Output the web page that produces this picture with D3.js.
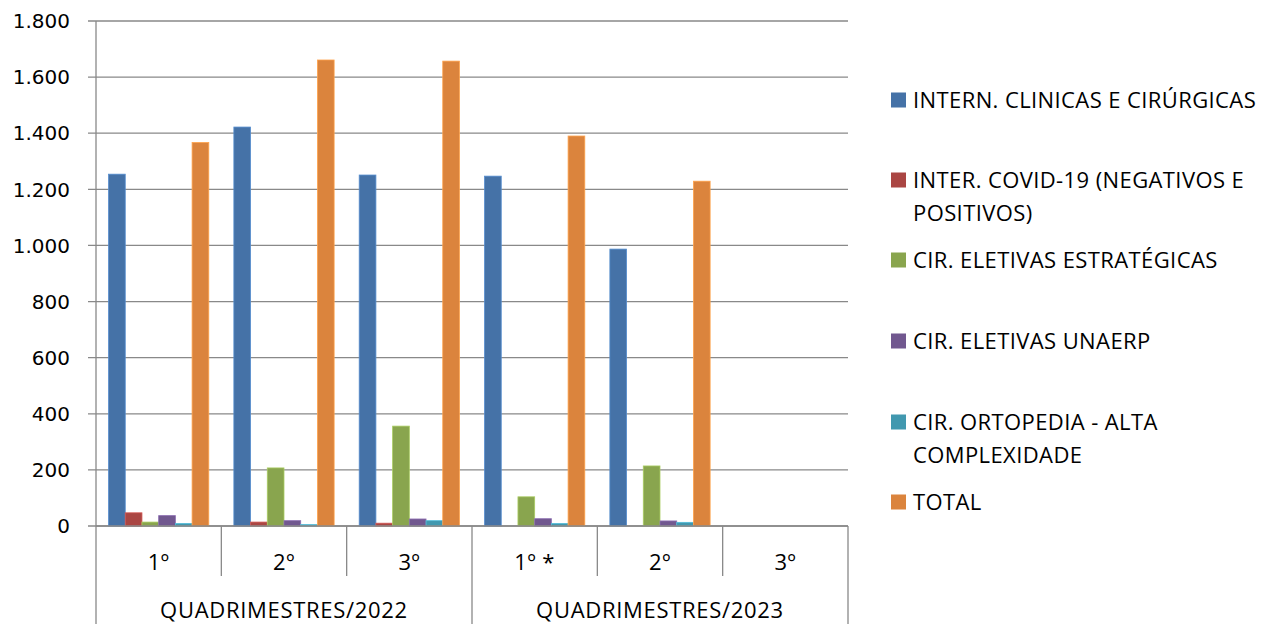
<!DOCTYPE html>
<html><head><meta charset="utf-8">
<script src="https://cdn.jsdelivr.net/npm/d3@7"></script>
<style>body{margin:0;background:#fff}svg{display:block}text{font-family:"Open Sans","Noto Sans",sans-serif;fill:#000}</style>
</head><body><svg id="c" width="1266" height="624"></svg>
<script>
const categories = ["1º","2º","3º","1º *","2º","3º"];
const groups = ["QUADRIMESTRES/2022","QUADRIMESTRES/2023"];
const seriesNames = ["INTERN. CLINICAS E CIRÚRGICAS","INTER. COVID-19 (NEGATIVOS E POSITIVOS)","CIR. ELETIVAS ESTRATÉGICAS","CIR. ELETIVAS UNAERP","CIR. ORTOPEDIA - ALTA COMPLEXIDADE","TOTAL"];
const legendLines = [["INTERN. CLINICAS E CIRÚRGICAS"],["INTER. COVID-19 (NEGATIVOS E","POSITIVOS)"],["CIR. ELETIVAS ESTRATÉGICAS"],["CIR. ELETIVAS UNAERP"],["CIR. ORTOPEDIA - ALTA","COMPLEXIDADE"],["TOTAL"]];
const colors = ["#4572A7","#AA4643","#89A54E","#71588F","#4198AF","#DB843D"];
const internClin = [1254, 1422, 1251, 1247, 987, null];
const covid      = [47, 14, 10, 0, 0, null];
const eletEstr   = [14, 207, 356, 104, 214, null];
const eletUnaerp = [37, 19, 25, 26, 18, null];
const ortopedia  = [9, 5, 19, 9, 13, null];
const total      = [1367, 1661, 1657, 1390, 1229, null];
const seriesValues = [internClin, covid, eletEstr, eletUnaerp, ortopedia, total];
const yTicks = [0,200,400,600,800,1000,1200,1400,1600,1800];

const svg = d3.select("#c");
const L = 96, R = 848, T = 21, B = 526;
const x = d3.scaleBand().domain(d3.range(categories.length)).range([L,R]).paddingInner(0).paddingOuter(0);
const xi = d3.scaleBand().domain(d3.range(seriesNames.length)).range([0,x.bandwidth()]).paddingOuter(0.75).paddingInner(0);
const y = d3.scaleLinear().domain([0,1800]).range([B,T]);
const fmt = v => d3.format(",")(v).replace(/,/g,".");
const grid = "#898989";

// gridlines
svg.append("g").selectAll("line").data(yTicks).join("line")
  .attr("x1",L-8).attr("x2",R).attr("y1",d=>y(d)).attr("y2",d=>y(d))
  .attr("stroke",grid).attr("stroke-width",1.3);
// y labels
svg.append("g").selectAll("text").data(yTicks).join("text")
  .attr("x",70).attr("y",d=>y(d)).attr("dy","0.36em").attr("text-anchor","end")
  .style("font-family","'DejaVu Sans',sans-serif").attr("font-size",20).text(fmt);

// bars
seriesValues.forEach((vals,s)=>{
  svg.append("g").selectAll("rect").data(vals.map((v,i)=>({v,i})).filter(d=>d.v!=null && d.v>0)).join("rect")
    .attr("x",d=>x(d.i)+xi(s)).attr("width",xi.bandwidth())
    .attr("y",d=>y(d.v)).attr("height",d=>B-y(d.v))
    .attr("fill",colors[s]).attr("stroke",d3.color(colors[s]).brighter(0.6)).attr("stroke-width",0.8);
});

// axes lines
svg.append("line").attr("x1",L).attr("x2",L).attr("y1",T).attr("y2",624).attr("stroke",grid).attr("stroke-width",1.3);
svg.append("line").attr("x1",L).attr("x2",R).attr("y1",B).attr("y2",B).attr("stroke",grid).attr("stroke-width",1.3);
// category separators
d3.range(1,categories.length+1).forEach(i=>{
  const xx = x(i-1)+x.bandwidth();
  const full = (i%3===0);
  svg.append("line").attr("x1",xx).attr("x2",xx).attr("y1",B).attr("y2",full?624:576)
    .attr("stroke",grid).attr("stroke-width",1.3);
});
// category labels
svg.append("g").selectAll("text").data(categories).join("text")
  .attr("x",(d,i)=>x(i)+x.bandwidth()/2).attr("y",562).attr("dy","0.35em")
  .attr("text-anchor","middle").attr("font-size",22).attr("letter-spacing",0.5).text(d=>d);
svg.append("g").selectAll("text").data(groups).join("text")
  .attr("x",(d,i)=>x(i*3)+x.bandwidth()*1.5).attr("y",610).attr("dy","0.35em")
  .attr("text-anchor","middle").attr("font-size",22).attr("letter-spacing",0.7).text(d=>d);

// legend
const legY = [100,180,260,341,422,502];
const leg = svg.append("g");
seriesNames.forEach((n,s)=>{
  leg.append("rect").attr("x",891).attr("y",legY[s]-7.5).attr("width",15).attr("height",15).attr("fill",colors[s]);
  legendLines[s].forEach((t,k)=>{
    leg.append("text").attr("x",913).attr("y",legY[s]+k*33).attr("dy","0.35em")
      .attr("font-size",22).attr("letter-spacing",0.4).text(t);
  });
});
</script></body></html>
